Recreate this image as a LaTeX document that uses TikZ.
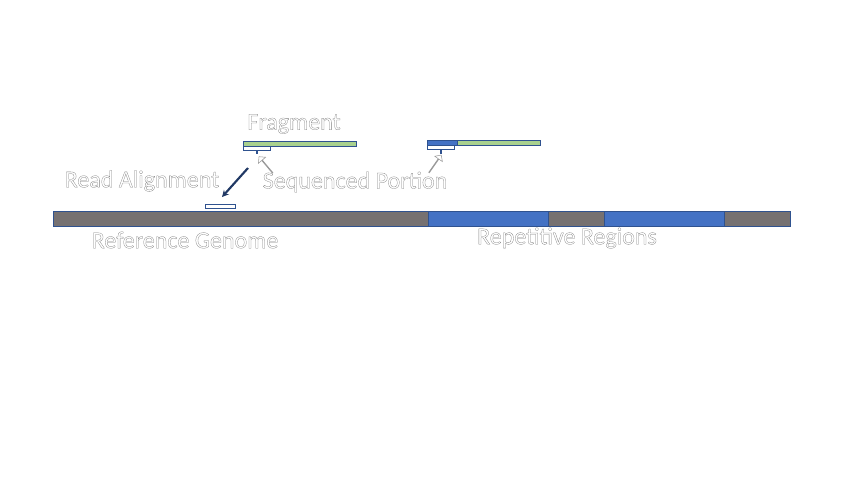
\documentclass[tikz,border=0pt]{standalone}
\usepackage{fontspec}
\setmainfont{Carlito}
\usepackage{tikz}
\usetikzlibrary{arrows.meta,positioning,shapes.arrows}
\usepackage{xcolor}
\definecolor{genome}{HTML}{767171}
\definecolor{repeat}{HTML}{4472C4}
\definecolor{frag}{HTML}{A9D18E}
\definecolor{edge}{HTML}{2F528F}
\definecolor{pointer}{HTML}{203864}
\newcommand{\hollow}[1]{\special{pdf:literal direct 2 Tr 0.2 w 1 g 0.5 G}#1\special{pdf:literal direct 0 Tr}}

\begin{document}
\begin{tikzpicture}[x=0.75pt,y=-0.75pt]
  \tikzset{
    lbl/.style={font=\fontsize{18}{20}\selectfont,text=gray,inner sep=0pt},
    segment/.style={draw=edge,line width=0.6pt},
    hollowarrow/.style={single arrow,draw=gray!80,fill=white,line width=0.4pt,
      minimum height=16pt,minimum width=7pt,single arrow head extend=2pt,inner sep=0pt}
  }
  \useasboundingbox (0,0) rectangle (853,480);
  % reference genome
  \draw[segment,fill=genome] (53,211) rectangle (790,226);
  \draw[segment,fill=repeat] (428,211) rectangle (548,226);
  \draw[segment,fill=repeat] (604,211) rectangle (724,226);
  \node[lbl] (refname) at (185,240) {\hollow{Reference Genome}};
  \node[lbl] (repname) at (567,238) {\hollow{Repetitive Regions}};
  % fragment 1
  \draw[segment,fill=frag] (243,141) rectangle (356,146);
  \draw[segment,fill=white] (243,146) rectangle (270,150);
  \draw[edge,line width=0.8pt] (257,150) -- (257,154);
  \node[lbl] (fragname) at (294,124) {\hollow{Fragment}};
  % fragment 2
  \draw[segment,fill=frag] (427,140) rectangle (540,145);
  \draw[segment,fill=repeat] (427,140) rectangle (457,145);
  \draw[segment,fill=white] (427,145) rectangle (454,149);
  \draw[edge,line width=0.8pt] (441,149) -- (441,154);
  % read alignment
  \draw[segment,fill=white] (205,204) rectangle (235,208);
  \node[lbl] (readname) at (142,181) {\hollow{Read Alignment}};
  \coordinate (readtop) at (248,168);
  \coordinate (readend) at (222,197);
  \draw[pointer,line width=1.6pt,-{Stealth[length=5pt,width=5pt]}] (readtop) -- (readend);
  % sequenced portion
  \node[lbl] (seqname) at (355,182) {\hollow{Sequenced Portion}};
  \node[hollowarrow,rotate=130] (seqarrow) at (266,165) {};
  \node[hollowarrow,rotate=55] (seqarrow2) at (435,164) {};
\end{tikzpicture}
\end{document}
